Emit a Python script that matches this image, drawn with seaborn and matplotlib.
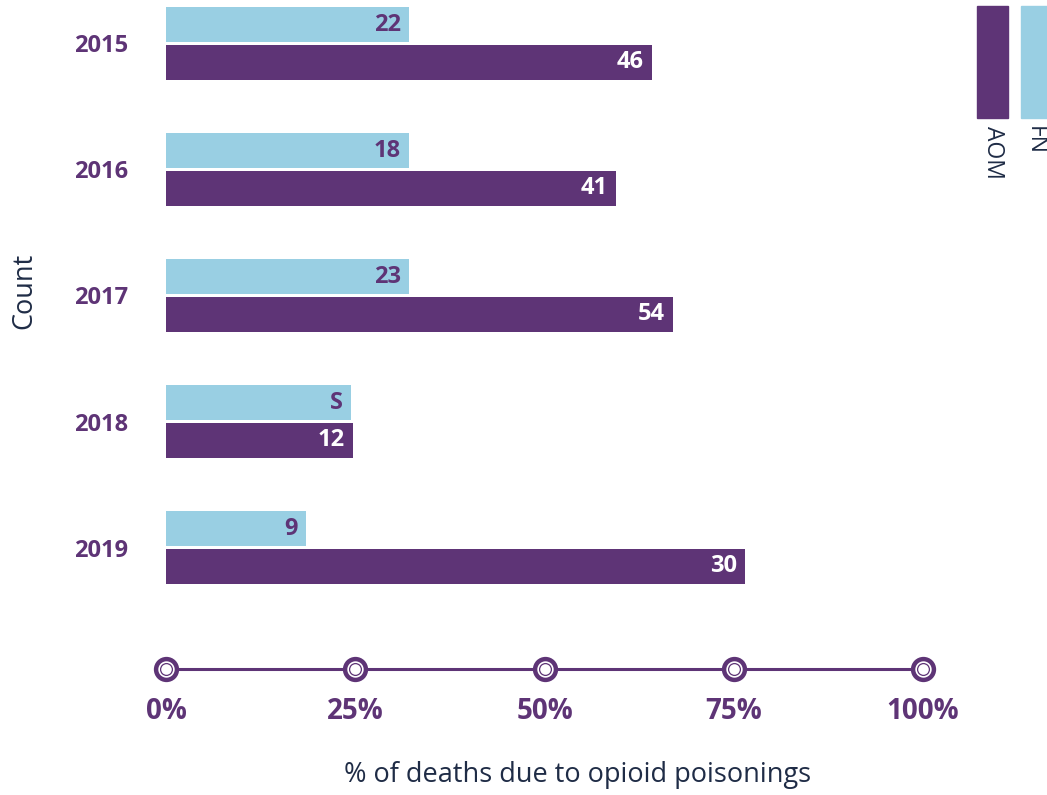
import matplotlib
matplotlib.use("Agg")
import matplotlib.pyplot as plt
from matplotlib.patches import Rectangle
import seaborn as sns
import pandas as pd

# ---- data ----
years = ["2015", "2016", "2017", "2018", "2019"]
series = ["FN", "AOM"]
fn_pct = [32.1, 32.1, 32.1, 24.4, 18.5]
aom_pct = [64.2, 59.4, 67.0, 24.7, 76.5]
fn_labels = ["22", "18", "23", "S", "9"]
aom_labels = ["46", "41", "54", "12", "30"]
x_ticks = [0, 25, 50, 75, 100]
x_tick_labels = ["0%", "25%", "50%", "75%", "100%"]

PURPLE = "#5e3476"
BLUE = "#99cfe3"
NAVY = "#1f2c46"
FONT = "Open Sans"

df = pd.DataFrame({
    "year": years * 2,
    "pct": fn_pct + aom_pct,
    "series": ["FN"] * len(years) + ["AOM"] * len(years),
})

sns.set_theme(style="white")
plt.rcParams["font.family"] = [FONT, "DejaVu Sans"]

W, H = 1047, 795
fig = plt.figure(figsize=(W / 100, H / 100), dpi=100)
ax = fig.add_axes([166 / W, 1 - 669 / H, (923 - 166) / W, 669 / H])

sns.barplot(data=df, x="pct", y="year", hue="series", hue_order=series,
            palette={"FN": BLUE, "AOM": PURPLE}, orient="h", width=0.6,
            gap=0.074, saturation=1, legend=False, linewidth=0, ax=ax)

ax.set_xlim(0, 100)
ax.set_ylim(4.964, -0.345)

# value labels inside bar ends
label_sets = {"FN": (fn_labels, PURPLE), "AOM": (aom_labels, "white")}
for cont, name in zip(ax.containers, series):
    labs, col = label_sets[name]
    for p, lab in zip(cont.patches, labs):
        ax.annotate(lab, (p.get_width(), p.get_y() + p.get_height() / 2),
                    xytext=(-6, 0), textcoords="offset points",
                    ha="right", va="center", color=col,
                    fontsize=17, fontweight="bold")

# axes styling
for s in ["top", "right", "left"]:
    ax.spines[s].set_visible(False)
ax.spines["bottom"].set_color(PURPLE)
ax.spines["bottom"].set_linewidth(2.2)
ax.spines["bottom"].set_clip_on(False)

ax.set_xticks(x_ticks)
ax.set_xticklabels(x_tick_labels, fontsize=20, fontweight="bold", color=PURPLE)
ax.tick_params(axis="x", length=0, pad=20)
ax.tick_params(axis="y", length=0, pad=27)
for t in ax.get_yticklabels():
    t.set_fontsize(17)
    t.set_fontweight("bold")
    t.set_color(PURPLE)

# circle markers at ticks
tr = ax.get_xaxis_transform()
ax.plot(x_ticks, [0] * len(x_ticks), "o", transform=tr, clip_on=False,
        markersize=15, markerfacecolor="white", markeredgecolor=PURPLE,
        markeredgewidth=3.2, zorder=5)
ax.plot(x_ticks, [0] * len(x_ticks), "o", transform=tr, clip_on=False,
        markersize=8.5, markerfacecolor="white", markeredgecolor=PURPLE,
        markeredgewidth=0.9, zorder=6)

ax.set_xlabel("% of deaths due to opioid poisonings", fontsize=19.5, color=NAVY)
ax.xaxis.set_label_coords((578 - 166) / 757, -92 / 669)
ax.set_ylabel("Count", fontsize=19.5, color=NAVY)
ax.yaxis.set_label_coords((38 - 166) / 757, (669 - 291) / 669)

# legend (vertical swatches with rotated labels)
leg = [("AOM", PURPLE, 977, 993), ("FN", BLUE, 1021, 1035)]
for name, col, x0, xc in leg:
    fig.patches.append(Rectangle((x0 / W, 1 - 118 / H), 31 / W, 112 / H,
                                 transform=fig.transFigure, color=col))
    fig.text(xc / W, 1 - 126 / H, name, rotation=-90, ha="center", va="top",
             fontsize=16.5, color=NAVY)

fig.savefig("out.png", dpi=100)
